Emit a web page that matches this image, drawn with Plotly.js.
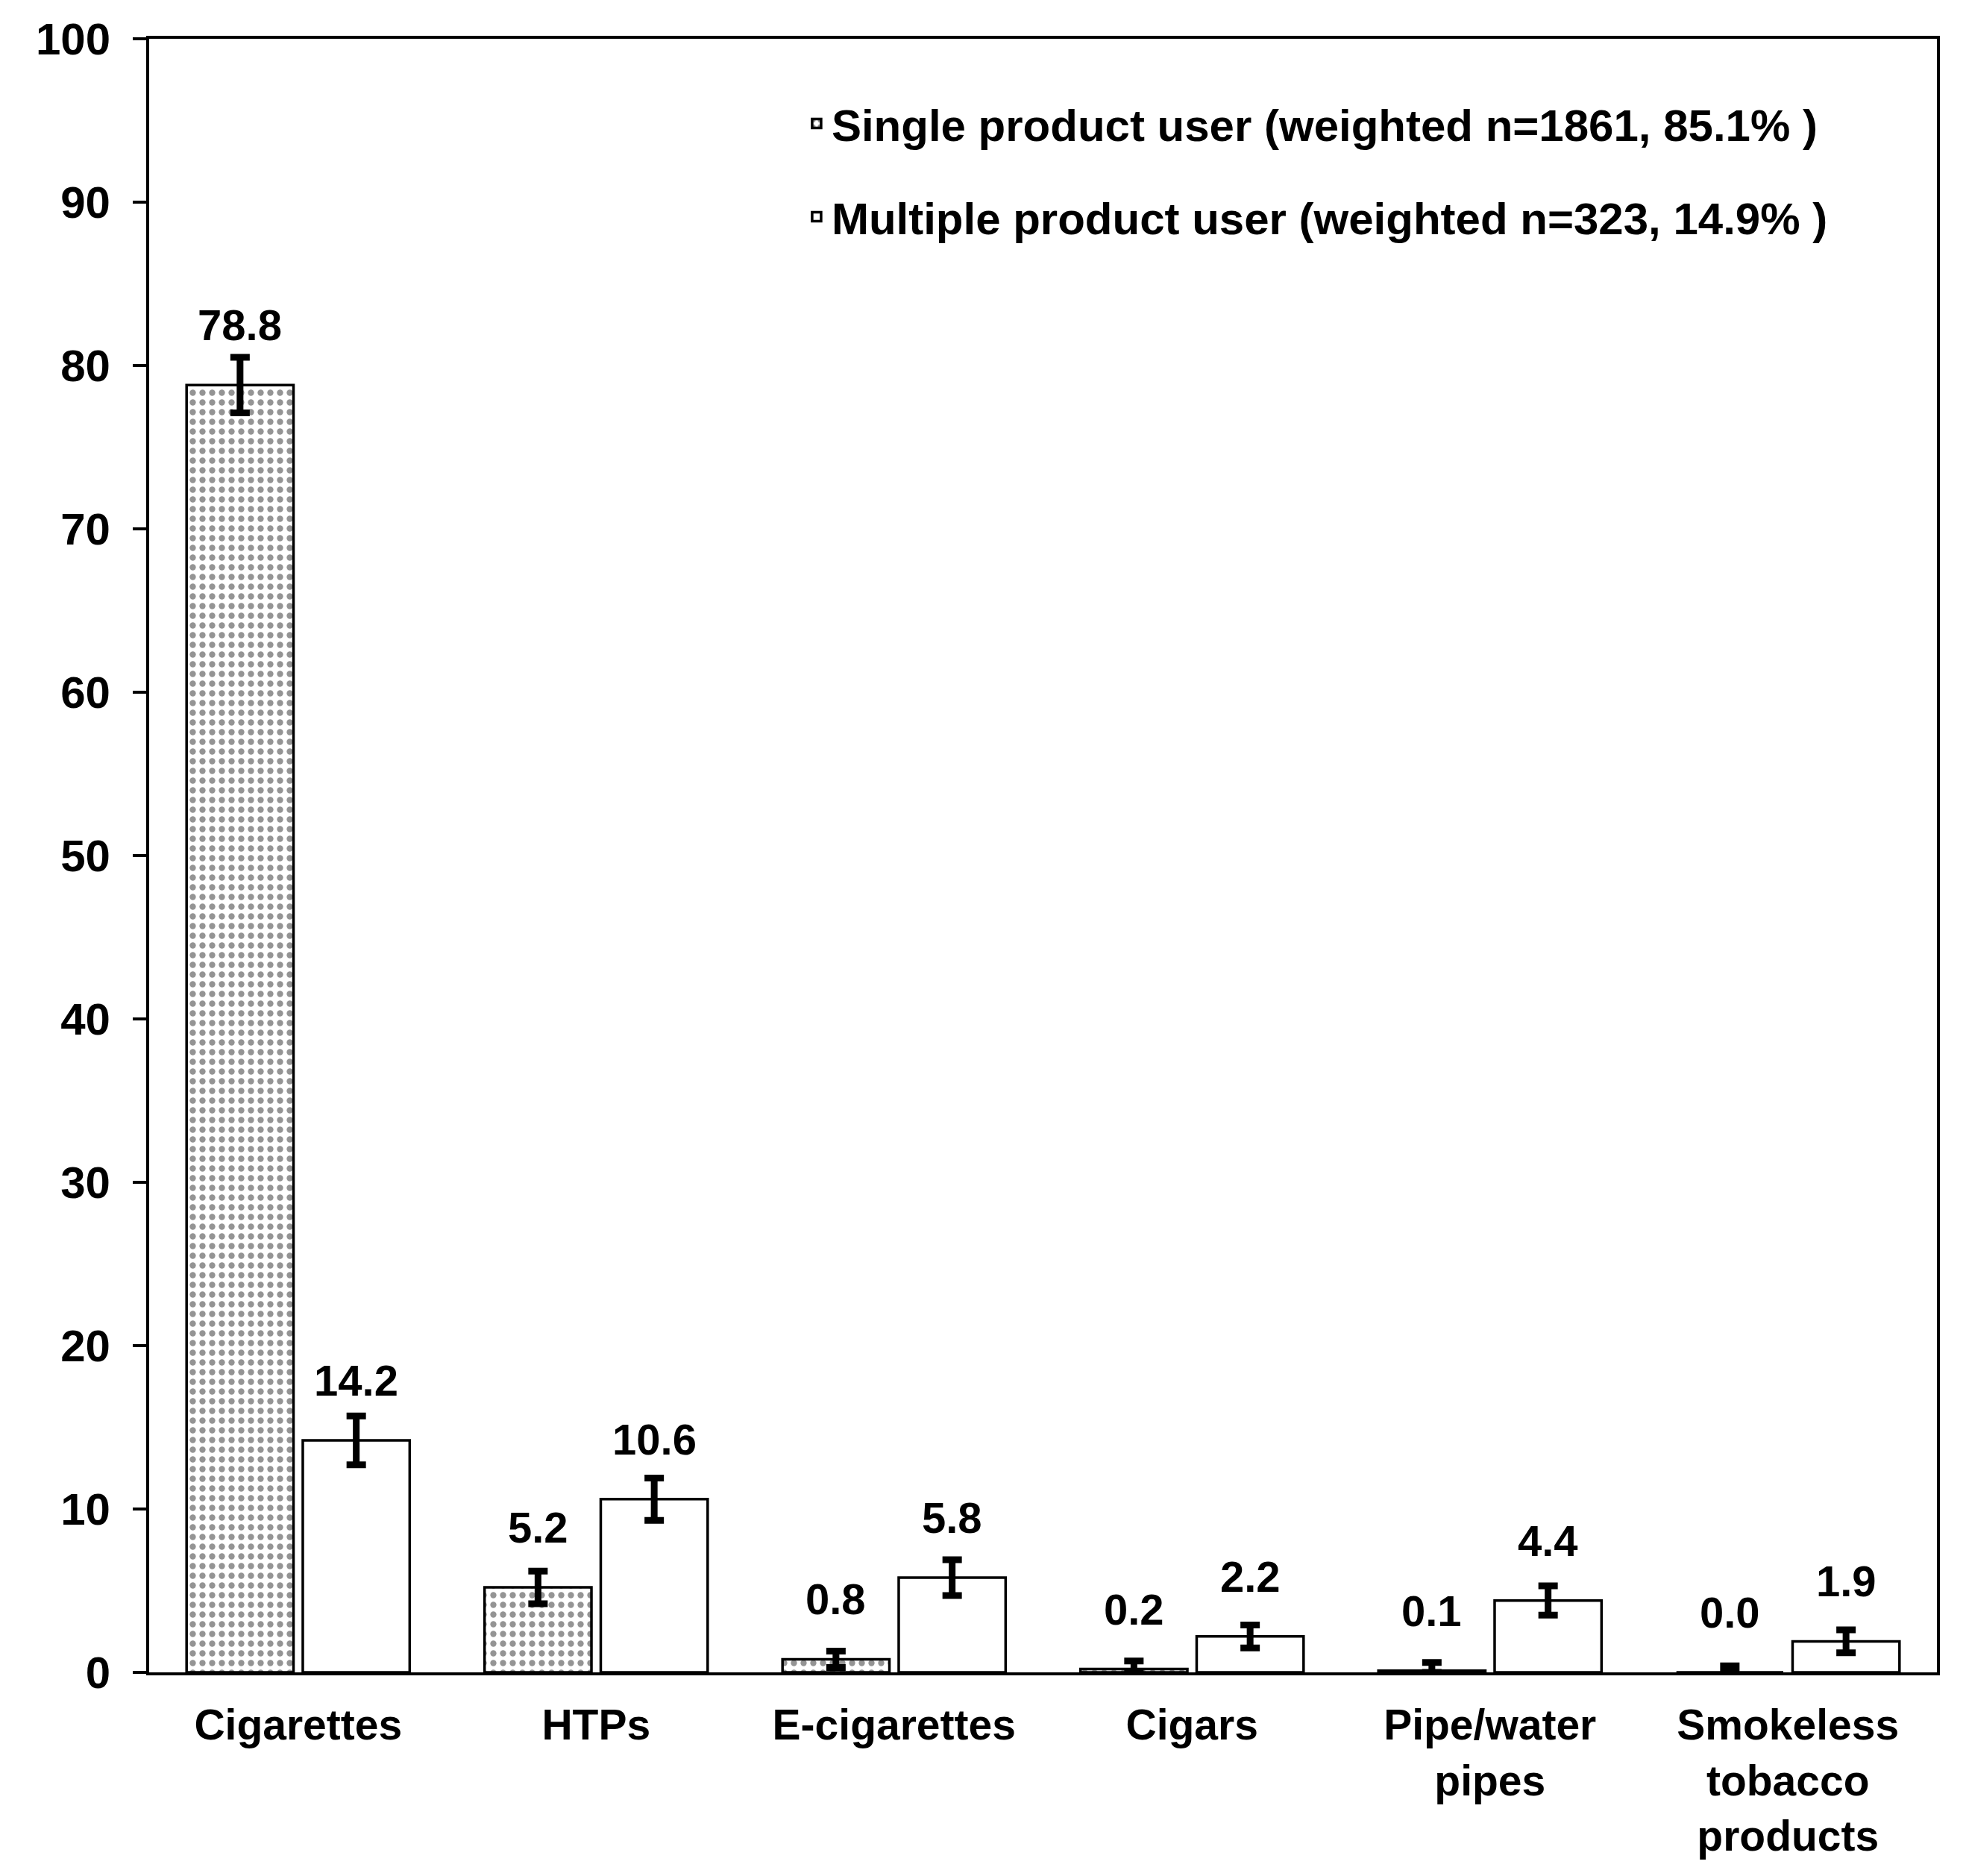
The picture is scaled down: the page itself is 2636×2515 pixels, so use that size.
<!DOCTYPE html>
<html>
<head>
<meta charset="utf-8">
<script src="https://cdn.plot.ly/plotly-3.0.1.min.js"></script>
<style>
  html, body { margin: 0; padding: 0; background: #ffffff; }
  #chart { width: 2636px; height: 2515px; }
</style>
</head>
<body>
<div id="chart"></div>
<script>
// ---- data ----
const categories = ['Cigarettes', 'HTPs', 'E-cigarettes', 'Cigars', 'Pipe/water<br>pipes', 'Smokeless<br>tobacco<br>products'];
const seriesNames = ['Single product user (weighted n=1861, 85.1% )', 'Multiple product user (weighted n=323, 14.9% )'];
const singleValues = [78.8, 5.2, 0.8, 0.2, 0.1, 0.0];
const singleErrors = [1.7, 1.0, 0.5, 0.5, 0.5, 0.4];
const multiValues = [14.2, 10.6, 5.8, 2.2, 4.4, 1.9];
const multiErrors = [1.5, 1.3, 1.1, 0.7, 0.9, 0.7];
const yTickValues = [0, 10, 20, 30, 40, 50, 60, 70, 80, 90, 100];

const FONT = 'Liberation Sans, Arial, Helvetica, sans-serif';
const BARGAP = 0.22;
const GROUPOFFSET = (1 - BARGAP) / 4;

const errStyle = (arr, vals) => ({
  type: 'data', array: arr,
  arrayminus: arr.map((e, i) => Math.min(e, vals[i])),
  symmetric: false, visible: true, color: '#000000', thickness: 9, width: 13
});

const traceSingle = {
  type: 'bar', name: seriesNames[0], x: categories, y: singleValues,
  legendgroup: 'g1',
  marker: {
    color: '#ffffff',
    line: { color: '#000000', width: 3.5 },
    pattern: { shape: '.', size: 13, solidity: 0.32, fgcolor: '#2a2a2a', bgcolor: '#ffffff', fillmode: 'overlay' }
  },
  error_y: errStyle(singleErrors, singleValues),
  hoverinfo: 'x+y'
};
const traceMulti = {
  type: 'bar', name: seriesNames[1], x: categories, y: multiValues,
  legendgroup: 'g2',
  marker: { color: '#ffffff', line: { color: '#000000', width: 3.5 } },
  error_y: errStyle(multiErrors, multiValues),
  hoverinfo: 'x+y'
};

const annotations = [];
categories.forEach((c, i) => {
  annotations.push({
    x: i - GROUPOFFSET, y: singleValues[i], xref: 'x', yref: 'y',
    text: singleValues[i].toFixed(1), showarrow: false,
    xanchor: 'center', yanchor: 'bottom', yshift: 46,
    font: { family: FONT, size: 58, color: '#000000', weight: 700 }
  });
  annotations.push({
    x: i + GROUPOFFSET, y: multiValues[i], xref: 'x', yref: 'y',
    text: multiValues[i].toFixed(1), showarrow: false,
    xanchor: 'center', yanchor: 'bottom', yshift: 46,
    font: { family: FONT, size: 58, color: '#000000', weight: 700 }
  });
});

const layout = {
  width: 2636, height: 2515,
  paper_bgcolor: '#ffffff', plot_bgcolor: '#ffffff',
  margin: { l: 200, r: 39, t: 52, b: 273, pad: 0 },
  font: { family: FONT, size: 58, color: '#000000', weight: 700 },
  barmode: 'group', bargap: BARGAP, bargroupgap: 0.08,
  showlegend: true,
  legend: {
    x: 0.365, xanchor: 'left', y: 0.969, yanchor: 'top',
    traceorder: 'grouped', tracegroupgap: 44,
    bgcolor: 'rgba(0,0,0,0)', borderwidth: 0,
    font: { family: FONT, size: 60, color: '#000000', weight: 700 }
  },
  xaxis: {
    type: 'category', showline: true, linecolor: '#000000', linewidth: 4, mirror: true,
    ticks: '', showgrid: false, zeroline: false,
    tickfont: { family: FONT, size: 57, color: '#000000', weight: 700 },
    ticklabelstandoff: 18
  },
  yaxis: {
    range: [0, 100], tickvals: yTickValues, showline: true, linecolor: '#000000', linewidth: 4, mirror: true,
    ticks: 'outside', ticklen: 18, tickwidth: 4, tickcolor: '#000000',
    showgrid: false, zeroline: false,
    tickfont: { family: FONT, size: 60, color: '#000000', weight: 700 },
    ticklabelstandoff: 18
  },
  annotations: annotations
};

Plotly.newPlot('chart', [traceSingle, traceMulti], layout, { staticPlot: true, displayModeBar: false });
</script>
</body>
</html>
